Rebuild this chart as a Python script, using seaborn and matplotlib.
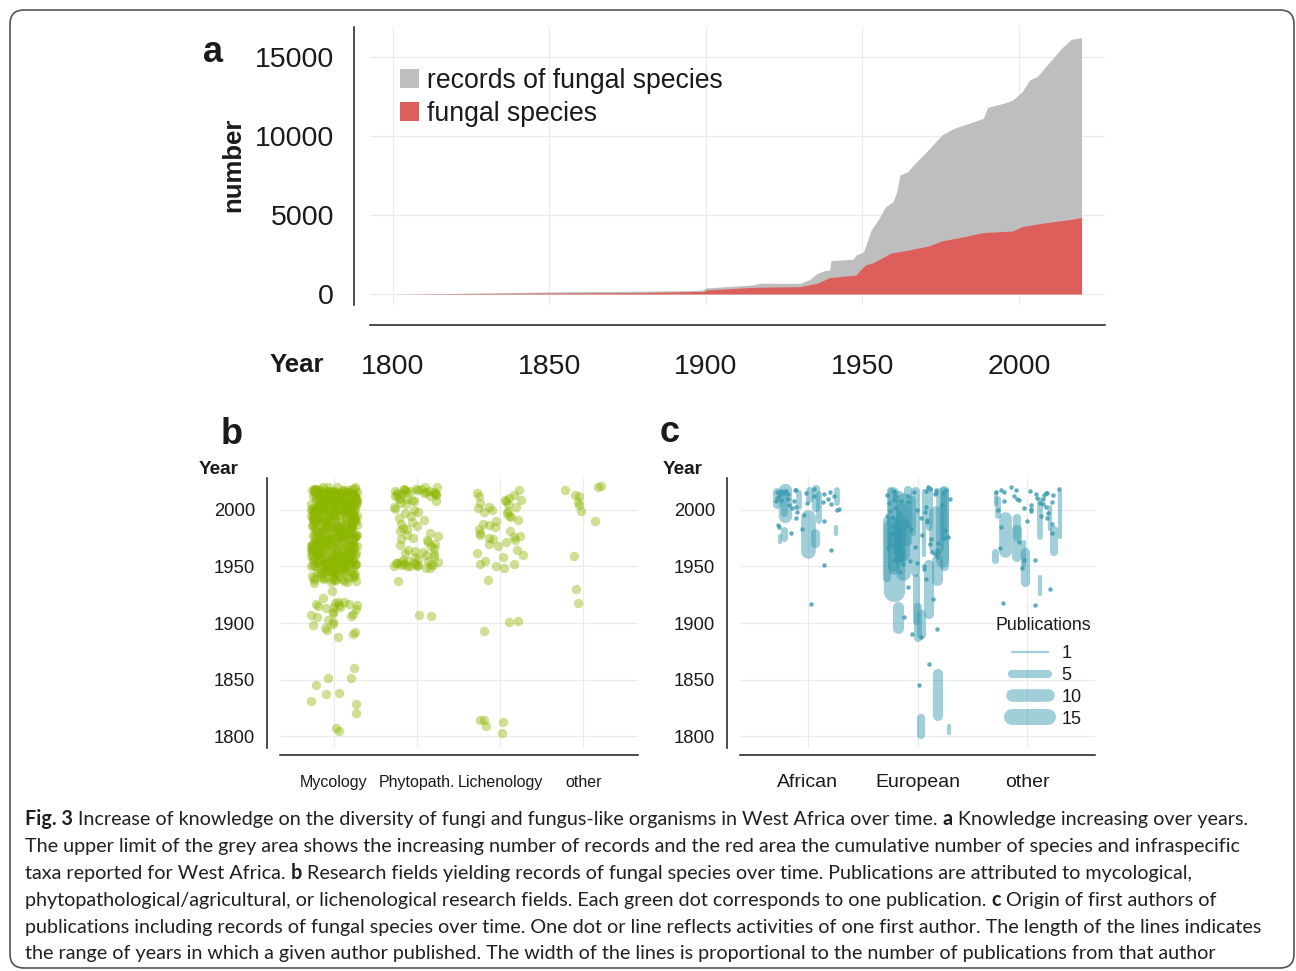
import numpy as np
import pandas as pd
import matplotlib
matplotlib.use("Agg")
import matplotlib.pyplot as plt
import seaborn as sns
from matplotlib.patches import FancyBboxPatch, Patch
from matplotlib.lines import Line2D
from matplotlib.transforms import IdentityTransform

# ---------------- data: panel a ----------------
rec_year = [1801, 1815, 1837, 1850, 1870, 1895, 1899, 1900, 1915, 1917, 1930, 1933, 1935.6,
            1938, 1939.5, 1940, 1947, 1948, 1950.4, 1951.5, 1952.8, 1955, 1957.4, 1959.8,
            1961, 1962, 1964.5, 1966.8, 1970, 1971.5, 1975.4, 1979.3, 1985.5, 1988.6, 1990,
            1995, 1998, 2001, 2003.4, 2005.8, 2010.4, 2013.6, 2016.7, 2019.8, 2020]
rec_count = [0, 20, 85, 127, 160, 211, 250, 380, 570, 676, 676, 900, 1310,
             1480, 1500, 2112, 2200, 2470, 2680, 3300, 4055, 4690, 5530, 5850,
             6500, 7540, 7750, 8280, 8910, 9230, 10075, 10500, 10920, 11130, 11830,
             12080, 12290, 12820, 13560, 13770, 14830, 15570, 16140, 16240, 16240]
spec_year = [1801, 1812, 1837, 1879, 1895, 1899.5, 1900, 1915, 1930, 1935.6, 1939.5, 1948,
             1949, 1951, 1953.5, 1959, 1965, 1971.5, 1975.4, 1982.4, 1988.6, 1998, 2001,
             2007.3, 2016.7, 2019.8, 2020]
spec_count = [0, 20, 40, 85, 150, 160, 250, 420, 465, 676, 1035, 1200,
              1450, 1840, 1990, 2580, 2790, 3060, 3360, 3630, 3890, 3990, 4270,
              4480, 4730, 4840, 4840]
a_labels = ["records of fungal species", "fungal species"]

# ---------------- data: panel b ----------------
fields = ["Mycology", "Phytopath.", "Lichenology", "other"]
myco_block_year = [1935, 1936, 1937, 1938, 1939, 1940, 1941, 1942, 1943, 1944, 1945, 1946,
                   1947, 1948, 1949, 1950, 1951, 1952, 1953, 1954, 1955, 1956, 1957, 1958,
                   1959, 1960, 1961, 1962, 1963, 1964, 1965, 1966, 1967, 1968, 1969, 1970,
                   1971, 1972, 1973, 1974, 1975, 1976, 1977, 1978, 1979, 1980, 1981, 1982,
                   1983, 1984, 1985, 1986, 1987, 1988, 1989, 1990, 1991, 1992, 1993, 1994,
                   1995, 1996, 1997, 1998, 1999, 2000, 2001, 2002, 2003, 2004, 2005, 2006,
                   2007, 2008, 2009, 2010, 2011, 2012, 2013, 2014, 2015, 2016, 2017, 2018,
                   2019, 2020]
myco_block_n = [1, 2, 2, 3, 3, 4, 3, 3, 4, 3, 4, 4,
                5, 5, 5, 6, 6, 6, 7, 6, 7, 6, 7, 6,
                6, 6, 5, 6, 6, 5, 6, 5, 5, 6, 5, 5,
                5, 6, 5, 5, 6, 5, 5, 5, 5, 5, 5, 5,
                5, 5, 5, 5, 5, 5, 5, 6, 5, 6, 6, 6,
                6, 6, 7, 7, 7, 7, 7, 7, 7, 8, 8, 8,
                8, 8, 8, 8, 8, 8, 8, 8, 8, 8, 7, 6,
                5, 4]
myco_other_years = [1928, 1922, 1919, 1919, 1918, 1917, 1917, 1916, 1916, 1915, 1914, 1914,
                    1913, 1912, 1910, 1909, 1908, 1907, 1906, 1905, 1903, 1901, 1899, 1898,
                    1896, 1894, 1892, 1890, 1888,
                    1860, 1851, 1851, 1845, 1838, 1837, 1831, 1828, 1820, 1807, 1804]
phyto_years = [2020, 2020, 2019, 2019, 2019, 2018, 2018, 2018, 2017, 2017, 2017, 2016, 2016,
               2016, 2015, 2015, 2015, 2014, 2014, 2013, 2013, 2012, 2012, 2011, 2010, 2010,
               2009, 2008, 2008, 2006, 2005, 2003, 2001, 2000, 1998, 1997, 1995, 1993, 1991,
               1989, 1988, 1986, 1984, 1983, 1981, 1980, 1978, 1977, 1975, 1974, 1973, 1972,
               1970, 1969, 1968, 1966, 1965, 1964, 1963, 1962, 1961, 1960, 1959, 1958, 1957,
               1956, 1955, 1955, 1954, 1954, 1953, 1953, 1953, 1952, 1952, 1952, 1951, 1951,
               1951, 1950, 1950, 1950, 1950, 1949, 1949, 1937, 1907, 1906]
lich_years = [2018, 2015, 2013, 2012, 2011, 2009, 2009, 2008, 2006, 2005, 2003, 2003, 2002,
              2000, 1999, 1998, 1997, 1995, 1994, 1991, 1990, 1988, 1987, 1985, 1983, 1981,
              1980, 1978, 1977, 1976, 1975, 1974, 1973, 1972, 1970, 1968, 1965, 1962, 1960,
              1958, 1955, 1952, 1952, 1950, 1949, 1938, 1902, 1901, 1893, 1814, 1814, 1812,
              1809, 1803]
other_years = [2020, 2021, 2018, 2013, 2012, 2007, 2004, 1999, 1990, 1959, 1930, 1918]

# ---------------- data: panel c ----------------
origins = ["African", "European", "other"]
line_origin = (["African"] * 13 + ["European"] * 29 + ["other"] * 13)
line_first = [1997, 1964, 1971, 2004, 1995, 1979, 1972, 1975, 2006, 2002, 2003, 2010, 1990,
              1944, 1928, 1967, 1908, 1887, 1818, 1801, 1803, 1896, 1890, 1902, 1972, 1960,
              1958, 1938, 1955, 1950, 1945, 1960, 1970, 1975, 1980, 1948, 1985, 1965,
              1950, 1962, 1940, 1955,
              1958, 1936, 1963, 1976, 1976, 1956, 1964, 1976, 1951, 1926, 1995, 2005, 1983]
line_last = [2016, 1994, 1980, 2016, 2018, 1985, 1977, 1982, 2018, 2019, 2015, 2018, 2014,
             2009, 1985, 1997, 1951, 1914, 1855, 1816, 1809, 1914, 1908, 1941, 2018, 2017,
             1991, 1956, 2015, 2016, 2017, 2000, 2018, 2015, 2010, 1975, 2019, 1990,
             2018, 2012, 1990, 1985,
             1982, 1963, 1982, 2009, 1993, 1963, 1993, 2016, 1972, 1941, 2010, 2015, 2003]
line_pubs = [4, 13, 6, 5, 11, 2, 2, 4, 3, 5, 3, 4, 3,
             13, 25, 13, 7, 5, 7, 5, 2, 8, 6, 4, 5, 2,
             8, 8, 10, 8, 6, 12, 4, 3, 3, 9, 4, 5,
             6, 7, 5, 4,
             7, 6, 5, 3, 5, 4, 10, 2, 2, 2, 3, 2, 2]
afr_dot_years = [2019, 2018, 2018, 2017, 2017, 2016, 2016, 2015, 2015, 2014, 2014, 2013, 2012,
                 2012, 2011, 2010, 2010, 2009, 2008, 2008, 2007, 2006, 2005, 2004, 2003, 2002,
                 2001, 2000, 1998, 1996, 1993, 1990, 1987, 1985, 1983, 1980, 1965, 1951, 1917]
eur_dot_years = [2020, 2019, 2018, 2018, 2017, 2017, 2016, 2016, 2015, 2015, 2014, 2013, 2012,
                 2012, 2010, 2009, 2008, 2007, 2006, 2004, 2003, 2002, 2000, 1999, 1998, 1997,
                 1995, 1994, 1993, 1991, 1990, 1989, 1987, 1986, 1985, 1983, 1982, 1980, 1979,
                 1978, 1976, 1975, 1974, 1972, 1971, 1970, 1968, 1967, 1966, 1965, 1963, 1962,
                 1961, 1960, 1958, 1957, 1956, 1955, 1953, 1952, 1950, 1948, 1945, 1939, 1932,
                 1921, 1905, 1895, 1890, 1888, 1864, 1845]
oth_dot_years = [2020, 2019, 2018, 2018, 2017, 2016, 2016, 2015, 2015, 2014, 2013, 2013, 2012,
                 2011, 2010, 2010, 2009, 2008, 2007, 2006, 2005, 2004, 2003, 2002, 2001, 2000,
                 1999, 1997, 1995, 1993, 1990, 1988, 1985, 1980, 1972, 1966, 1956, 1956, 1949,
                 1930, 1918, 1916]
pub_breaks = [1, 5, 10, 15]

caption_lines = [
    [("Fig. 3", True), (" Increase of knowledge on the diversity of fungi and fungus-like organisms in West Africa over time. ", False),
     ("a", True), (" Knowledge increasing over years.", False)],
    [("The upper limit of the grey area shows the increasing number of records and the red area the cumulative number of species and infraspecific", False)],
    [("taxa reported for West Africa. ", False), ("b", True),
     (" Research fields yielding records of fungal species over time. Publications are attributed to mycological,", False)],
    [("phytopathological/agricultural, or lichenological research fields. Each green dot corresponds to one publication. ", False),
     ("c", True), (" Origin of first authors of", False)],
    [("publications including records of fungal species over time. One dot or line reflects activities of one first author. The length of the lines indicates", False)],
    [("the range of years in which a given author published. The width of the lines is proportional to the number of publications from that author", False)],
]

# ---------------- style ----------------
W, H = 1296, 971
GREY, RED = "#BEBEBE", "#DC5F5B"
GREEN = "#8DB600"
TEAL = "#3A9AB0"
INK = "#1A1A1A"

sns.set_theme(style="whitegrid")
plt.rcParams["font.family"] = ["Liberation Sans", "DejaVu Sans"]
plt.rcParams.update({"grid.color": "#EBEBEB", "grid.linewidth": 0.8,
                     "axes.edgecolor": INK, "axes.linewidth": 1.1,
                     "xtick.color": "#333333", "ytick.color": "#333333",
                     "text.color": INK})

fig = plt.figure(figsize=(W / 100, H / 100), dpi=100)
fig.patch.set_facecolor("white")


def rect(l, t, r, b):
    return [l / W, 1 - b / H, (r - l) / W, (b - t) / H]


def px(v):
    return v * 0.72


def style_axes(ax, left_out, bottom_out, tick_len):
    for s in ["top", "right"]:
        ax.spines[s].set_visible(False)
    for s in ["left", "bottom"]:
        ax.spines[s].set_visible(True)
        ax.spines[s].set_color(INK)
        ax.spines[s].set_linewidth(1.1)
    ax.spines["left"].set_position(("outward", px(left_out)))
    ax.spines["bottom"].set_position(("outward", px(bottom_out)))
    ax.tick_params(axis="both", which="major", length=px(tick_len), width=1.0,
                   color="#333333", direction="out", labelcolor=INK)
    ax.set_axisbelow(True)
    ax.grid(True, color="#EBEBEB", linewidth=0.8)
    ax.set_facecolor("white")


# ---------------- panel a ----------------
axa = fig.add_axes(rect(370, 27, 1105, 305))
axa.fill_between(rec_year, rec_count, color=GREY, linewidth=0)
axa.fill_between(spec_year, spec_count, color=RED, linewidth=0)
axa.set_xlim(1792.7, 2027.5)
axa.set_ylim(-700, 16920)
axa.set_xticks([1800, 1850, 1900, 1950, 2000])
axa.set_yticks([0, 5000, 10000, 15000])
style_axes(axa, 16, 20, 8)
axa.tick_params(axis="both", labelsize=20.5)
axa.tick_params(axis="y", pad=px(12))
axa.tick_params(axis="x", pad=px(21))
axa.set_xlabel("")
axa.set_ylabel("")
handles = [Patch(facecolor=GREY, edgecolor="none"), Patch(facecolor=RED, edgecolor="none")]
axa.legend(handles, a_labels, loc="upper left", bbox_to_anchor=(400 / W, 1 - 68 / H),
           bbox_transform=fig.transFigure, frameon=False, fontsize=19.2,
           handlelength=0.7, handleheight=0.7, handletextpad=0.3, labelspacing=0.25,
           borderpad=0, borderaxespad=0)
fig.text(213 / W, 1 - 53 / H, "a", fontsize=26, fontweight="bold", ha="center", va="center")
fig.text(233 / W, 1 - 165 / H, "number", fontsize=18.5, fontweight="bold", rotation=90,
         ha="center", va="center")
fig.text(297 / W, 1 - 365 / H, "Year", fontsize=18.5, fontweight="bold", ha="center", va="center")

# ---------------- panel b ----------------
np.random.seed(7)
b_field, b_year = [], []
for y, n in zip(myco_block_year, myco_block_n):
    b_field += ["Mycology"] * n
    b_year += [y] * n
for y in myco_other_years:
    b_field.append("Mycology"); b_year.append(y)
for name, ys in [("Phytopath.", phyto_years), ("Lichenology", lich_years), ("other", other_years)]:
    for y in ys:
        b_field.append(name); b_year.append(y)
dfb = pd.DataFrame({"field": b_field, "year": b_year})

axb = fig.add_axes(rect(280, 478, 638, 748))
sns.stripplot(data=dfb, x="field", y="year", order=fields, jitter=0.28, size=6.8,
              color=GREEN, alpha=0.42, linewidth=0, ax=axb)
axb.set_xlim(-0.65, 3.66)
axb.set_ylim(1789.4, 2028.3)
axb.set_yticks([1800, 1850, 1900, 1950, 2000])
style_axes(axb, 13, 7, 7)
axb.tick_params(axis="y", labelsize=13.3, pad=px(5))
axb.tick_params(axis="x", labelsize=11.5, pad=px(13))
axb.set_xlabel("")
axb.set_ylabel("")
fig.text(232 / W, 1 - 435 / H, "b", fontsize=26, fontweight="bold", ha="center", va="center")
fig.text(219 / W, 1 - 470 / H, "Year", fontsize=13.6, fontweight="bold", ha="center", va="center")

# ---------------- panel c ----------------
def width_pt(n):
    return px(-2.47 + 4.77 * np.sqrt(n))


rng = np.random.default_rng(11)
dfl = pd.DataFrame({"origin": line_origin, "first": line_first, "last": line_last, "pubs": line_pubs})
dfl["x"] = dfl["origin"].map({o: i for i, o in enumerate(origins)}) + rng.uniform(-0.3, 0.3, len(dfl))

d_orig, d_year = [], []
for name, ys in [("African", afr_dot_years), ("European", eur_dot_years), ("other", oth_dot_years)]:
    d_orig += [name] * len(ys)
    d_year += ys
dfd = pd.DataFrame({"origin": d_orig, "year": d_year})
dfd["x"] = dfd["origin"].map({o: i for i, o in enumerate(origins)}) + rng.uniform(-0.3, 0.3, len(dfd))

axc = fig.add_axes(rect(740, 478, 1095, 748))
lc = axc.vlines(dfl["x"], dfl["first"], dfl["last"], colors=TEAL, alpha=0.48,
                linewidths=[width_pt(n) for n in dfl["pubs"]])
lc.set_capstyle("round")
sns.scatterplot(data=dfd, x="x", y="year", color=TEAL, alpha=0.8, s=px(4.5) ** 2,
                linewidth=0, ax=axc, legend=False)
axc.set_xlim(-0.62, 2.62)
axc.set_ylim(1789.4, 2028.3)
axc.set_xticks([0, 1, 2])
axc.set_xticklabels(origins)
axc.set_yticks([1800, 1850, 1900, 1950, 2000])
style_axes(axc, 13, 7, 7)
axc.tick_params(axis="y", labelsize=13.3, pad=px(5))
axc.tick_params(axis="x", labelsize=14, pad=px(12))
axc.set_xlabel("")
axc.set_ylabel("")
leg_handles = [Line2D([0], [0], color=TEAL, alpha=0.48, linewidth=width_pt(n),
                      solid_capstyle="round") for n in pub_breaks]
axc.legend(leg_handles, [str(n) for n in pub_breaks],
           loc="upper left", bbox_to_anchor=(1012 / W, 1 - 645 / H),
           bbox_transform=fig.transFigure, frameon=False, fontsize=13,
           handlelength=2.0, handletextpad=0.75,
           labelspacing=0.27, borderpad=0, borderaxespad=0)
fig.text(1043 / W, 1 - 626 / H, "Publications", fontsize=12.8, ha="center", va="center")
fig.text(670 / W, 1 - 432 / H, "c", fontsize=26, fontweight="bold", ha="center", va="center")
fig.text(683 / W, 1 - 469 / H, "Year", fontsize=13.6, fontweight="bold", ha="center", va="center")

# ---------------- caption ----------------
renderer = fig.canvas.get_renderer()
CAP_FONT = ["Lato", "DejaVu Sans"]


def text_w(s, bold, size):
    t = fig.text(0, 0, s, fontsize=size, family=CAP_FONT, fontweight="bold" if bold else "normal")
    w = t.get_window_extent(renderer).width
    t.remove()
    return w


def space_w(bold, size):
    return text_w("a a", bold, size) - text_w("aa", bold, size)


def line_width(pieces, size):
    tot = 0
    for s, b in pieces:
        lead = len(s) - len(s.lstrip(" "))
        trail = len(s) - len(s.rstrip(" "))
        tot += (lead + trail) * space_w(b, size) + text_w(s.strip(" "), b, size)
    return tot


cap_size = 12 * 1222 / line_width(caption_lines[0], 12)
baselines = [825, 852, 879, 906, 933, 959]
for pieces, yb in zip(caption_lines, baselines):
    x = 25
    for s, b in pieces:
        lead = len(s) - len(s.lstrip(" "))
        trail = len(s) - len(s.rstrip(" "))
        x += lead * space_w(b, cap_size)
        core = s.strip(" ")
        fig.text(x / W, 1 - yb / H, core, fontsize=cap_size, family=CAP_FONT,
                 fontweight="bold" if b else "normal", ha="left", va="baseline", color="#231F20")
        x += text_w(core, b, cap_size) + trail * space_w(b, cap_size)

# ---------------- border ----------------
border = FancyBboxPatch((10, H - 968), 1284, 958, boxstyle="round,pad=0,rounding_size=14",
                        transform=IdentityTransform(), facecolor="none", edgecolor="#555555",
                        linewidth=1.2)
fig.patches.append(border)

fig.savefig("out.png", dpi=100, facecolor="white")
